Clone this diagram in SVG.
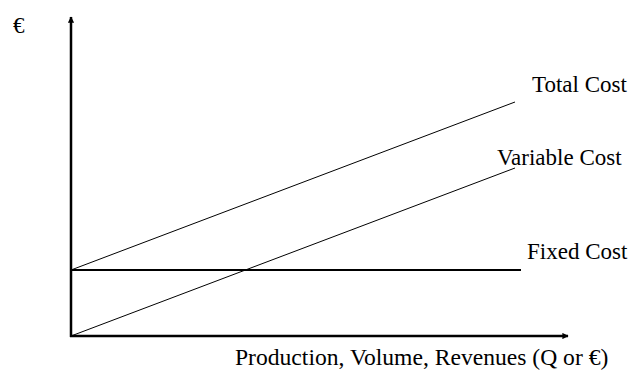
<svg xmlns="http://www.w3.org/2000/svg" width="635" height="376" viewBox="0 0 635 376">
  <style>
    .axis { stroke: #000; stroke-width: 2.5; fill: none; }
    .curve { stroke: #000; stroke-width: 1; fill: none; }
    .fixed { stroke: #000; stroke-width: 2; fill: none; }
    .lbl { font-family: "Liberation Serif", "Times New Roman", serif; font-size: 23px; fill: #000; }
  </style>
  <defs>
    <marker id="arrow" viewBox="0 0 10 10" refX="9" refY="5" markerWidth="3.2" markerHeight="2.5" markerUnits="strokeWidth" orient="auto">
      <path d="M0,0 L10,5 L0,10 z" fill="#000"/>
    </marker>
  </defs>
  <rect width="635" height="376" fill="#fff"/>
  <g id="axes">
    <line class="axis" x1="71" y1="337" x2="71" y2="17" marker-end="url(#arrow)"/>
    <line class="axis" x1="70" y1="336" x2="568" y2="336" marker-end="url(#arrow)"/>
  </g>
  <g id="connectors">
    <line id="fixed-cost-line" class="fixed" x1="71" y1="270" x2="521" y2="270"/>
    <line id="total-cost-line" class="curve" x1="71" y1="270" x2="515" y2="102"/>
    <line id="variable-cost-line" class="curve" x1="71" y1="336" x2="515" y2="168"/>
  </g>
  <g id="labels">
    <text class="lbl" x="13" y="33">€</text>
    <text class="lbl" x="532" y="92">Total Cost</text>
    <text class="lbl" x="497" y="165">Variable Cost</text>
    <text class="lbl" x="527" y="259">Fixed Cost</text>
    <text class="lbl" x="235" y="365" style="font-size:23.6px">Production, Volume, Revenues (Q or €)</text>
  </g>
</svg>
